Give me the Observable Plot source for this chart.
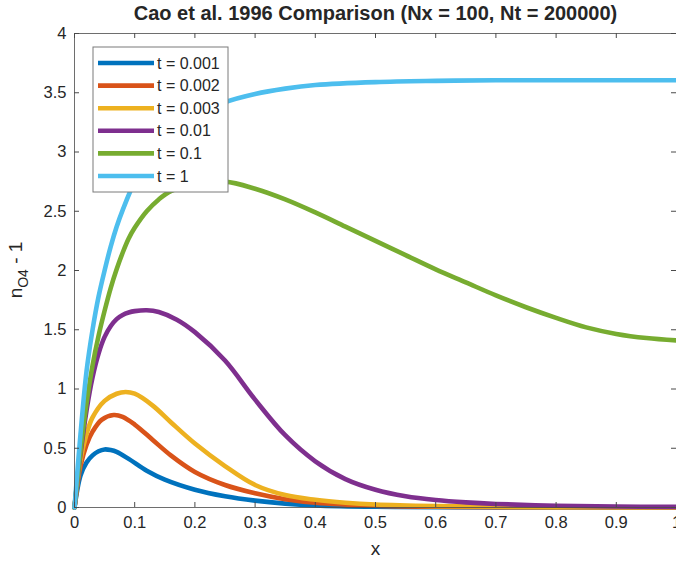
<!DOCTYPE html>
<html>
<head>
<meta charset="utf-8">
<script src="https://cdn.jsdelivr.net/npm/d3@7"></script>
<script src="https://cdn.jsdelivr.net/npm/@observablehq/plot@0.6"></script>
<style>
  html, body { margin: 0; padding: 0; background: white; }
</style>
</head>
<body>
<div id="chart"></div>
<script>
const title = "Cao et al. 1996 Comparison (Nx = 100, Nt = 200000)";
const xLabel = "x";
const xTicks = [0, 0.1, 0.2, 0.3, 0.4, 0.5, 0.6, 0.7, 0.8, 0.9, 1];
const yTicks = [0, 0.5, 1, 1.5, 2, 2.5, 3, 3.5, 4];

const seriesNames = ["t = 0.001", "t = 0.002", "t = 0.003", "t = 0.01", "t = 0.1", "t = 1"];
const seriesColors = ["#0072BD", "#D95319", "#EDB120", "#7E2F8E", "#77AC30", "#4DBEEE"];

const x_t0001 = [0, 0.01, 0.02, 0.03, 0.04, 0.05, 0.06, 0.07, 0.09, 0.12, 0.15, 0.2, 0.25, 0.3, 0.35, 0.4, 0.5, 0.6, 0.8, 1.0];
const n_t0001 = [0, 0.27, 0.38, 0.44, 0.475, 0.49, 0.485, 0.47, 0.41, 0.31, 0.235, 0.15, 0.095, 0.058, 0.033, 0.018, 0.006, 0.002, 0.0005, 0];

const x_t0002 = [0, 0.01, 0.02, 0.03, 0.045, 0.065, 0.08, 0.1, 0.13, 0.16, 0.2, 0.25, 0.3, 0.35, 0.4, 0.5, 0.6, 0.7, 1.0];
const n_t0002 = [0, 0.35, 0.53, 0.64, 0.74, 0.78, 0.765, 0.70, 0.57, 0.44, 0.30, 0.19, 0.12, 0.07, 0.04, 0.015, 0.006, 0.003, 0.001];

const x_t0003 = [0, 0.01, 0.02, 0.03, 0.05, 0.07, 0.085, 0.1, 0.13, 0.16, 0.2, 0.25, 0.3, 0.35, 0.4, 0.45, 0.5, 0.6, 0.7, 0.8, 1.0];
const n_t0003 = [0, 0.40, 0.62, 0.76, 0.90, 0.96, 0.975, 0.96, 0.86, 0.72, 0.54, 0.35, 0.19, 0.105, 0.065, 0.04, 0.025, 0.012, 0.006, 0.003, 0.001];

const x_t001 = [0, 0.01, 0.02, 0.03, 0.04, 0.05, 0.06, 0.07, 0.08, 0.09, 0.1, 0.12, 0.14, 0.17, 0.2, 0.25, 0.3, 0.35, 0.4, 0.45, 0.5, 0.55, 0.6, 0.65, 0.7, 0.8, 0.9, 1.0];
const n_t001 = [0, 0.45, 0.82, 1.1, 1.3, 1.44, 1.53, 1.59, 1.625, 1.645, 1.657, 1.665, 1.65, 1.585, 1.48, 1.24, 0.91, 0.61, 0.39, 0.24, 0.15, 0.095, 0.063, 0.043, 0.03, 0.015, 0.008, 0.005];

const x_t01 = [0, 0.01, 0.02, 0.03, 0.04, 0.05, 0.06, 0.07, 0.08, 0.09, 0.1, 0.12, 0.14, 0.16, 0.2, 0.25, 0.3, 0.35, 0.4, 0.45, 0.5, 0.55, 0.6, 0.65, 0.7, 0.75, 0.8, 0.85, 0.9, 0.95, 1.0];
const n_t01 = [0, 0.48, 0.88, 1.2, 1.45, 1.66, 1.85, 2.01, 2.15, 2.27, 2.36, 2.5, 2.6, 2.67, 2.73, 2.75, 2.69, 2.6, 2.49, 2.37, 2.25, 2.13, 2.01, 1.9, 1.79, 1.69, 1.6, 1.52, 1.465, 1.43, 1.41];

const x_t1 = [0, 0.01, 0.02, 0.03, 0.04, 0.05, 0.06, 0.07, 0.08, 0.1, 0.12, 0.15, 0.2, 0.25, 0.3, 0.35, 0.4, 0.5, 0.6, 0.7, 1.0];
const n_t1 = [0, 0.62, 1.15, 1.5, 1.78, 2.0, 2.2, 2.37, 2.51, 2.75, 2.92, 3.1, 3.3, 3.42, 3.49, 3.535, 3.565, 3.59, 3.6, 3.605, 3.605];

const seriesX = [x_t0001, x_t0002, x_t0003, x_t001, x_t01, x_t1];
const seriesN = [n_t0001, n_t0002, n_t0003, n_t001, n_t01, n_t1];

const W = 676, H = 565;
const mL = 74, mR = 0, mT = 33, mB = 58;
const plotW = W - mL - mR, plotH = H - mT - mB;
const tickLen = 5;
const axisColor = "#4a4a4a";
const textColor = "#262626";
const font = "'Liberation Sans', Arial, Helvetica, sans-serif";

const lineMarks = seriesNames.map((name, i) => {
  const rows = seriesX[i].map((x, j) => ({x, v: seriesN[i][j]}));
  return Plot.line(rows, {x: "x", y: "v", stroke: seriesColors[i], strokeWidth: 4.6, curve: "catmull-rom"});
});

const chart = Plot.plot({
  width: W, height: H,
  marginLeft: mL, marginRight: mR, marginTop: mT, marginBottom: mB,
  style: {fontFamily: font, fontSize: "16px", color: textColor, background: "white", overflow: "visible"},
  x: {domain: [0, 1]},
  y: {domain: [0, 4]},
  marks: [
    ...lineMarks,
    Plot.frame({stroke: axisColor, strokeOpacity: 0.8}),
    Plot.tickX(xTicks, {x: d => d, insetTop: plotH - tickLen, stroke: axisColor}),
    Plot.tickX(xTicks, {x: d => d, insetBottom: plotH - tickLen, stroke: axisColor}),
    Plot.tickY(yTicks, {y: d => d, insetRight: plotW - tickLen, stroke: axisColor}),
    Plot.tickY(yTicks, {y: d => d, insetLeft: plotW - tickLen, stroke: axisColor}),
    Plot.axisX(xTicks, {tickSize: 0, tickPadding: 9, label: null, fontSize: 16.5, tickFormat: d => String(d)}),
    Plot.axisY(yTicks, {tickSize: 0, tickPadding: 8, label: null, fontSize: 16.5, tickFormat: d => String(d)}),
    Plot.text([xLabel], {frameAnchor: "bottom", lineAnchor: "middle", dy: 41, fontSize: 19, fill: textColor}),
    Plot.text([title], {frameAnchor: "top", lineAnchor: "middle", dy: -20, fontSize: 20, fontWeight: "bold", fill: textColor})
  ]
});

document.getElementById("chart").appendChild(chart);

const svg = d3.select(chart);

// y-axis label with subscript
const yl = svg.append("text")
  .attr("transform", `translate(22, ${mT + plotH / 2}) rotate(-90)`)
  .attr("text-anchor", "middle")
  .attr("font-family", font)
  .attr("font-size", 19)
  .attr("fill", textColor);
yl.append("tspan").text("n");
yl.append("tspan").attr("dy", 6).attr("font-size", 14).text("O4");
yl.append("tspan").attr("dy", -6).text(" - 1");

// legend
const lg = svg.append("g");
const lx = 93, ly = 47, lw = 135, lh = 145, rowH = 22.6, row0 = 16;
lg.append("rect").attr("x", lx).attr("y", ly).attr("width", lw).attr("height", lh)
  .attr("fill", "white").attr("stroke", "#7a7a7a").attr("stroke-width", 1);
seriesNames.forEach((name, i) => {
  const yy = ly + row0 + i * rowH;
  lg.append("line").attr("x1", lx + 5).attr("x2", lx + 61).attr("y1", yy).attr("y2", yy)
    .attr("stroke", seriesColors[i]).attr("stroke-width", 4.6);
  lg.append("text").attr("x", lx + 64).attr("y", yy).attr("dy", "0.35em")
    .attr("text-anchor", "start")
    .attr("font-family", font).attr("font-size", 16).attr("fill", textColor).text(name);
});
</script>
</body>
</html>
